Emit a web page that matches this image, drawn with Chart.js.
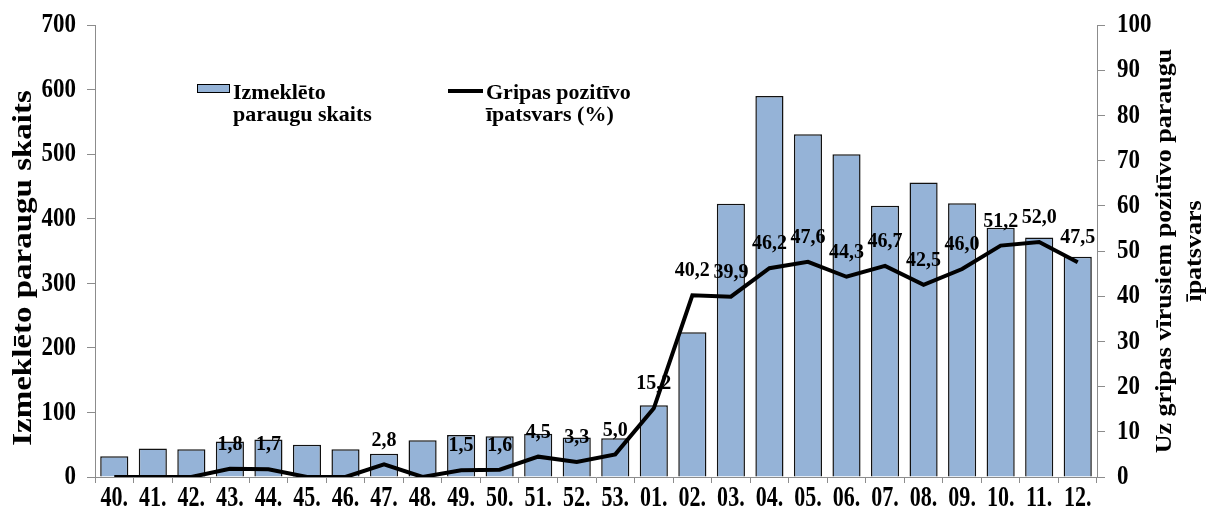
<!DOCTYPE html>
<html>
<head>
<meta charset="utf-8">
<script src="https://cdn.jsdelivr.net/npm/chart.js@4/dist/chart.umd.min.js"></script>
<style>
    html, body { margin: 0; padding: 0; background: #fff; }
    #wrap { position: relative; width: 1209px; height: 520px; }
</style>
</head>
<body>
<div id="wrap"><canvas id="chart"></canvas></div>
<script>
// Weekly influenza surveillance data
const weeks = ['40.', '41.', '42.', '43.', '44.', '45.', '46.', '47.', '48.', '49.', '50.', '51.', '52.', '53.',
    '01.', '02.', '03.', '04.', '05.', '06.', '07.', '08.', '09.', '10.', '11.', '12.'];
const samples = [32, 44, 43, 55, 58, 50, 43, 36, 57, 65, 63, 67, 61, 60,
    111, 224, 423, 590, 531, 500, 420, 456, 424, 386, 371, 341];
const positiveShare = [0, 0, 0, 1.8, 1.7, 0, 0, 2.8, 0, 1.5, 1.6, 4.5, 3.3, 5.0,
    15.2, 40.2, 39.9, 46.2, 47.6, 44.3, 46.7, 42.5, 46.0, 51.2, 52.0, 47.5];

const leftTitle = 'Izmeklēto paraugu skaits';
const rightTitle = ['Uz gripas vīrusiem pozitīvo paraugu', 'īpatsvars'];
const barLegend = ['Izmeklēto', 'paraugu skaits'];
const lineLegend = ['Gripas pozitīvo', 'īpatsvars (%)'];

const SERIF = '"Liberation Serif", "Times New Roman", serif';
const BAR_FILL = '#95B3D7';
const AXIS_GREY = '#8c8c8c';

// draws text squeezed horizontally (Excel-like narrow digits)
function squeezed(ctx, text, x, y, sx, align) {
    ctx.save();
    ctx.translate(x, y);
    ctx.scale(sx, 1);
    ctx.textAlign = align;
    ctx.fillText(text, 0, 0);
    ctx.restore();
}

// rotated (bottom-to-top) title, thickness squeezed a bit
function sideTitle(ctx, lines, x, y, gap, sy) {
    ctx.save();
    ctx.translate(x, y);
    ctx.rotate(-Math.PI / 2);
    ctx.scale(1, sy);
    ctx.textAlign = 'center';
    lines.forEach((l, i) => ctx.fillText(l, 0, i * gap));
    ctx.restore();
}

const textPlugin = {
    id: 'textPlugin',
    afterDraw(chart) {
        const ctx = chart.ctx;
        const { x, y, y1 } = chart.scales;
        ctx.save();
        ctx.fillStyle = '#000';
        ctx.textBaseline = 'middle';

        // tick labels
        ctx.font = 'bold 28px ' + SERIF;
        y.ticks.forEach(t => squeezed(ctx, String(t.value), 76, y.getPixelForValue(t.value), 0.82, 'right'));
        y1.ticks.forEach(t => squeezed(ctx, String(t.value), 1117, y1.getPixelForValue(t.value), 0.82, 'left'));
        ctx.font = 'bold 29px ' + SERIF;
        weeks.forEach((w, i) => squeezed(ctx, w, x.getPixelForTick(i), 499, 0.76, 'center'));

        // axis titles
        ctx.font = 'bold 33px ' + SERIF;
        sideTitle(ctx, [leftTitle], 24, 268, 0, 0.8);
        ctx.font = 'bold 26px ' + SERIF;
        sideTitle(ctx, rightTitle, 1165, 251, 36, 0.85);

        // data labels above the line
        ctx.font = 'bold 20px ' + SERIF;
        ctx.textAlign = 'center';
        const meta = chart.getDatasetMeta(1);
        positiveShare.forEach((v, i) => {
            if (!v) return;
            const pt = meta.data[i];
            ctx.fillText(v.toFixed(1).replace('.', ','), pt.x, pt.y - 24);
        });

        // legend
        ctx.fillStyle = BAR_FILL;
        ctx.fillRect(197, 84, 32, 8);
        ctx.strokeStyle = '#000';
        ctx.lineWidth = 1;
        ctx.strokeRect(197.5, 84.5, 32, 8);
        ctx.beginPath();
        ctx.lineWidth = 4;
        ctx.moveTo(448, 91);
        ctx.lineTo(483, 91);
        ctx.stroke();

        ctx.fillStyle = '#000';
        ctx.font = 'bold 22px ' + SERIF;
        ctx.textAlign = 'left';
        ctx.textBaseline = 'alphabetic';
        ctx.fillText(barLegend[0], 233, 99);
        ctx.fillText(barLegend[1], 233, 121);
        ctx.fillText(lineLegend[0], 486, 99);
        ctx.fillText(lineLegend[1], 486, 121);
        ctx.restore();
    }
};

const axisGrid = {
    display: true,
    drawOnChartArea: false,
    drawTicks: true,
    tickLength: 8,
    color: AXIS_GREY
};

new Chart(document.getElementById('chart'), {
    type: 'bar',
    data: {
        labels: weeks,
        datasets: [
            {
                label: 'Izmeklēto paraugu skaits',
                data: samples,
                yAxisID: 'y',
                backgroundColor: BAR_FILL,
                borderColor: '#111',
                borderWidth: 1.5,
                barPercentage: 0.73,
                categoryPercentage: 1,
                order: 2
            },
            {
                type: 'line',
                label: 'Gripas pozitīvo īpatsvars (%)',
                data: positiveShare,
                yAxisID: 'y1',
                borderColor: '#000',
                borderWidth: 4,
                pointRadius: 0,
                tension: 0,
                order: 1
            }
        ]
    },
    options: {
        responsive: true,
        maintainAspectRatio: false,
        animation: false,
        layout: { padding: { top: 25, left: 0, right: 0, bottom: 0 } },
        plugins: {
            legend: { display: false },
            tooltip: { enabled: false }
        },
        scales: {
            x: {
                offset: true,
                grid: { ...axisGrid, offset: true, tickLength: 6 },
                border: { display: true, color: AXIS_GREY },
                ticks: { display: false },
                afterFit: s => { s.height = 43; }
            },
            y: {
                position: 'left',
                min: 0,
                max: 700,
                ticks: { display: false, stepSize: 100 },
                grid: axisGrid,
                border: { display: true, color: AXIS_GREY },
                afterFit: s => { s.width = 95; }
            },
            y1: {
                position: 'right',
                min: 0,
                max: 100,
                ticks: { display: false, stepSize: 10 },
                grid: axisGrid,
                border: { display: true, color: AXIS_GREY },
                afterFit: s => { s.width = 112; }
            }
        }
    },
    plugins: [textPlugin]
});
</script>
</body>
</html>
